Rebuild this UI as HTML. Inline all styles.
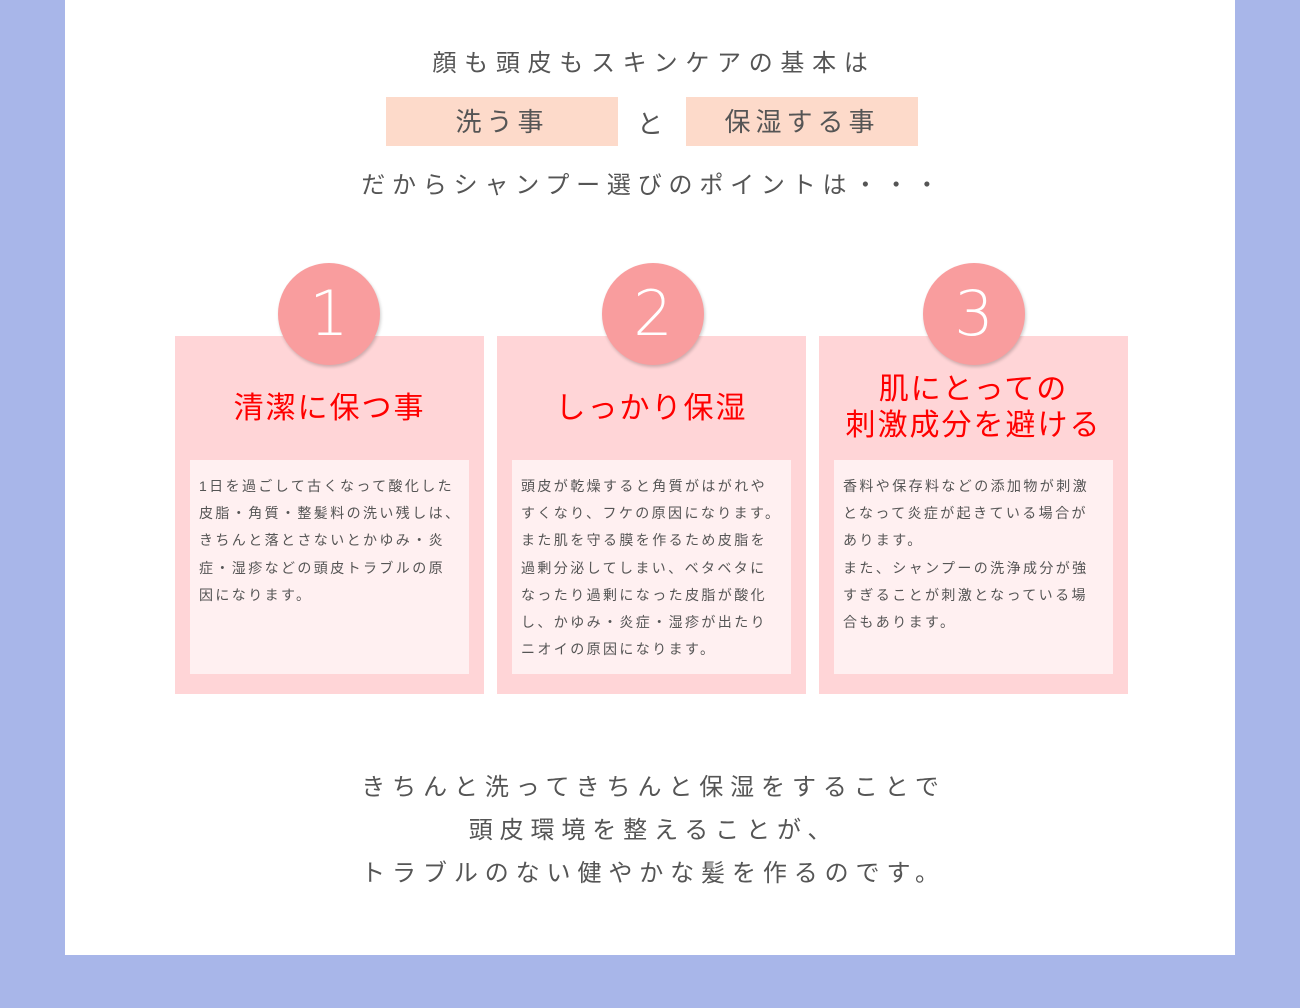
<!DOCTYPE html>
<html><head><meta charset="utf-8"><style>
*{margin:0;padding:0;box-sizing:border-box}
body{width:1300px;height:1008px;background:#a8b6e9;font-family:"Liberation Sans","Noto Sans CJK JP",sans-serif;color:#555;position:relative;overflow:hidden}
.panel{position:absolute;left:65px;top:0;width:1170px;height:955px;background:#fff}
.t{position:absolute;left:0;width:1300px;text-align:center;white-space:nowrap}
.pk{position:absolute;top:97px;height:49px;width:232px;background:#fddaca;text-align:center;font-size:26px;line-height:51px;letter-spacing:5px;color:#555}
.card{position:absolute;top:336px;width:309px;height:358px;background:#ffd5d7}
.circ{position:absolute;top:263px;width:102px;height:102px;border-radius:50%;background:#f99d9e;color:#fff;font-size:62px;line-height:102px;text-align:center;box-shadow:1px 2px 3px rgba(0,0,0,.2);font-family:"DejaVu Sans",sans-serif;font-weight:300}
.h{position:absolute;left:0;width:309px;text-align:center;color:#f00;font-size:30px;letter-spacing:2px;line-height:36px;white-space:nowrap}
.in{position:absolute;left:15px;top:124px;width:279px;height:214px;background:#fff0f1;padding:13px 0 0 9px;font-size:14px;line-height:27.2px;letter-spacing:2.4px;white-space:nowrap;color:#555}
</style></head><body>
<div class="panel"></div>
<div class="t" style="top:46px;font-size:24px;letter-spacing:7.7px;line-height:36px;padding-left:8px">顔も頭皮もスキンケアの基本は</div>
<div class="pk" style="left:386px">洗う事</div>
<div class="t" style="top:106px;font-size:26px;line-height:36px">と</div>
<div class="pk" style="left:686px">保湿する事</div>
<div class="t" style="top:168px;font-size:24px;letter-spacing:6.8px;line-height:36px;padding-left:7px">だからシャンプー選びのポイントは・・・</div>

<div class="card" style="left:175px"><div class="h" style="top:55px">清潔に保つ事</div>
<div class="in">1日を過ごして古くなって酸化した<br>皮脂・角質・整髪料の洗い残しは、<br>きちんと落とさないとかゆみ・炎<br>症・湿疹などの頭皮トラブルの原<br>因になります。</div></div>
<div class="card" style="left:497px"><div class="h" style="top:55px">しっかり保湿</div>
<div class="in">頭皮が乾燥すると角質がはがれや<br>すくなり、フケの原因になります。<br>また肌を守る膜を作るため皮脂を<br>過剰分泌してしまい、ベタベタに<br>なったり過剰になった皮脂が酸化<br>し、かゆみ・炎症・湿疹が出たり<br>ニオイの原因になります。</div></div>
<div class="card" style="left:819px"><div class="h" style="top:36px">肌にとっての<br>刺激成分を避ける</div>
<div class="in">香料や保存料などの添加物が刺激<br>となって炎症が起きている場合が<br>あります。<br>また、シャンプーの洗浄成分が強<br>すぎることが刺激となっている場<br>合もあります。</div></div>
<div class="circ" style="left:278px">1</div>
<div class="circ" style="left:602px">2</div>
<div class="circ" style="left:923px">3</div>

<div class="t" style="top:766px;font-size:24px;letter-spacing:6.9px;line-height:43px;padding-left:7px">きちんと洗ってきちんと保湿をすることで<br>頭皮環境を整えることが、<br>トラブルのない健やかな髪を作るのです。</div>
</body></html>
